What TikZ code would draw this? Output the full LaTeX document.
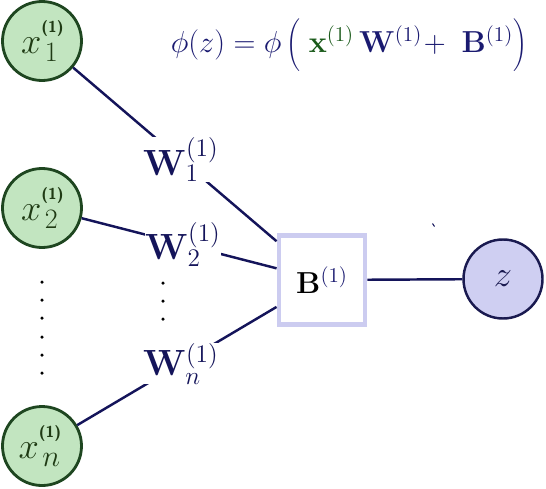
\documentclass[tikz,border=0pt]{standalone}
\usepackage{xcolor}
\usetikzlibrary{calc}
\definecolor{netink}{HTML}{14145A}
\definecolor{formink}{HTML}{1A1A70}
\definecolor{formgreen}{HTML}{1A5A1A}
\definecolor{inputfill}{HTML}{C2E5C0}
\definecolor{inputline}{HTML}{1E4620}
\definecolor{inputtext}{HTML}{1F3A14}
\definecolor{biasline}{HTML}{CCCCF0}
\definecolor{outfill}{HTML}{CFCFF2}
\definecolor{outline}{HTML}{1A1A50}

\newcommand{\inlabel}[1]{$x$\rlap{\raisebox{12pt}{\sffamily\bfseries\small(1)}}\kern2pt\raisebox{-4.5pt}{\fontsize{16}{18}\selectfont #1}\kern3pt}

\begin{document}
\begin{tikzpicture}[
  inputnode/.style={
    circle,
    draw=inputline,
    fill=inputfill,
    text=inputtext,
    line width=1.6pt,
    minimum size=1.58cm,
    inner sep=0pt,
    font=\fontsize{19.5}{22}\selectfont
  },
  biasnode/.style={
    rectangle,
    draw=biasline,
    fill=white,
    line width=2.8pt,
    minimum width=1.72cm,
    minimum height=1.78cm,
    font=\LARGE
  },
  outnode/.style={
    circle,
    draw=outline,
    fill=outfill,
    text=outline,
    line width=1.4pt,
    minimum size=1.58cm,
    inner sep=0pt,
    font=\huge
  },
  weight/.style={
    draw=netink,
    line width=1.4pt
  },
  wlabel/.style={
    fill=white,
    text=netink,
    inner sep=0pt,
    font=\huge
  },
  vdot/.style={
    circle,
    fill=black,
    inner sep=0pt,
    minimum size=0.07cm
  }
]
\useasboundingbox (0,0) rectangle (10.92,-9.76);

\node[inputnode] (x1) at (0.84,-0.82) {\inlabel{1}};
\node[inputnode] (x2) at (0.84,-4.16) {\inlabel{2}};
\node[inputnode] (xn) at (0.84,-8.92) {\inlabel{$n$}};

\node[biasnode] (bias) at (6.44,-5.60) {$\mathbf{B}^{\color{formink}(1)}$};
\node[outnode] (out) at (10.06,-5.58) {$z$};

\node[font=\LARGE,text=formink] (formula) at (6.98,-0.90)
  {$\phi(z)=\phi\left(\vrule height 17pt depth 10pt width 0pt\;\textcolor{formgreen}{\mathbf{x}^{(1)}}\,\mathbf{W}^{(1)}\!+\ \mathbf{B}^{(1)}\right)$};

\draw[weight] (x1) -- node[wlabel,pos=0.53] {$\mathbf{W}^{(1)}_{1}$} (bias);
\draw[weight] (x2) -- node[wlabel,pos=0.52] {$\mathbf{W}^{(1)}_{2}$} (bias);
\draw[weight] (xn) -- node[wlabel,pos=0.52] {$\mathbf{W}^{(1)}_{n}$} (bias);
\draw[weight] (bias) -- (out);

\foreach \i [count=\k] in {5.64,6.00,6.36,6.74,7.10,7.46}
  \node[vdot] (ldot\k) at (0.84,-\i) {};
\foreach \i [count=\k] in {5.66,6.02,6.38}
  \node[vdot] (mdot\k) at (3.26,-\i) {};

\draw[netink,line width=0.6pt] (8.65,-4.47) -- (8.69,-4.53);

\end{tikzpicture}
\end{document}
